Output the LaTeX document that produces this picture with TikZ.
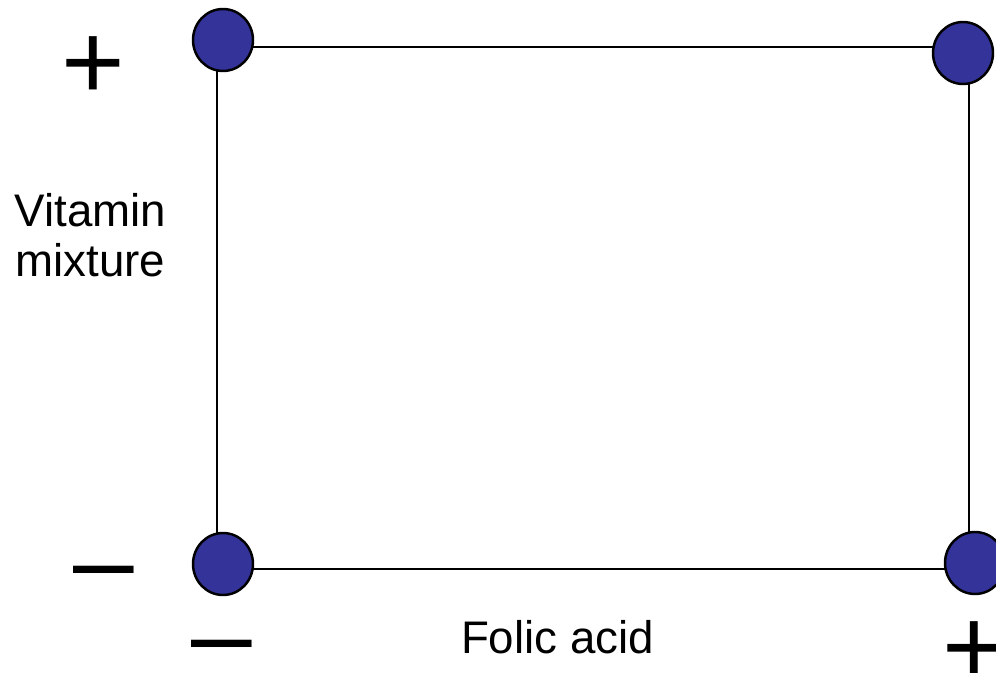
\documentclass[tikz,border=0pt]{standalone}
\usepackage{fontspec}
\setmainfont{Liberation Sans}
\usepackage{xcolor}
\definecolor{dotBlue}{HTML}{333399}
\usepackage{tikz}
\usetikzlibrary{shapes.geometric}

\begin{document}
\begin{tikzpicture}[x=0.02cm, y=-0.02cm,
    dot/.style={ellipse, draw=black, line width=1.4pt, fill=dotBlue,
      minimum width=1.2cm, minimum height=1.24cm, inner sep=0pt},
    sign/.style={anchor=base, inner sep=0pt, font=\fontsize{62}{62}\selectfont},
    axislabel/.style={anchor=base, inner sep=0pt, align=center,
      font=\fontsize{26}{28.4}\selectfont}]
  \useasboundingbox (0,0) rectangle (996,672);
  % the frame
  \coordinate (lowlow) at (217,569);
  \coordinate (highlow) at (969,569);
  \coordinate (highhigh) at (969,47);
  \coordinate (lowhigh) at (217,47);
  \draw[line width=1.3pt] (lowlow) -- (highlow) -- (highhigh) -- (lowhigh) -- cycle;
  % the runs
  \node[dot] (runA) at (223,40) {};
  \node[dot] (runB) at (963,53) {};
  \node[dot] (runC) at (223,564) {};
  \node[dot] (runD) at (975,563) {};
  % levels
  \node[sign] (vitHigh) at (93,100) {+};
  \node[sign] (vitLow) at (103.5,597) {–};
  \node[sign] (folLow) at (221.5,671) {–};
  \node[sign] (folHigh) at (974,684) {+};
  % factors
  \node[axislabel] (vitamin) at (90.5,276.7) {Vitamin\\mixture};
  \node[axislabel] (folic) at (557.5,653) {Folic acid};
\end{tikzpicture}
\end{document}
